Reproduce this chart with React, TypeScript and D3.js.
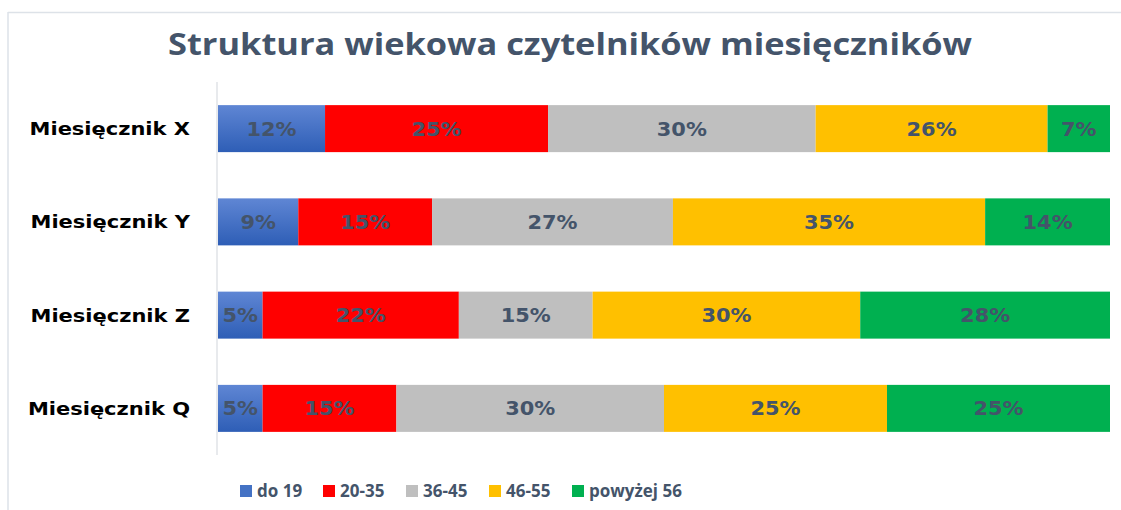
import React from "react";
import * as d3 from "d3";

const title = "Struktura wiekowa czytelników miesięczników";
const categories = ["Miesięcznik X", "Miesięcznik Y", "Miesięcznik Z", "Miesięcznik Q"];
const seriesNames = ["do 19", "20-35", "36-45", "46-55", "powyżej 56"];
const seriesColors = ["url(#blueGrad)", "#FF0000", "#BFBFBF", "#FFC000", "#00B050"];
const legendColors = ["#4472C4", "#FF0000", "#BFBFBF", "#FFC000", "#00B050"];
const do19 = [12, 9, 5, 5];
const s2035 = [25, 15, 22, 15];
const s3645 = [30, 27, 15, 30];
const s4655 = [26, 35, 30, 25];
const s56 = [7, 14, 28, 25];
const seriesValues = [do19, s2035, s3645, s4655, s56];

const W = 1121;
const H = 510;
const textColor = "#44546A";

export default function App() {
  const x = d3.scaleLinear().domain([0, 100]).range([218, 1110]);
  const y = d3
    .scaleBand<string>()
    .domain(categories)
    .range([82, 455])
    .paddingInner(0.496)
    .paddingOuter(0.248);

  const rows = categories.map((c, i) => {
    const o: any = { cat: c };
    seriesNames.forEach((s, k) => (o[s] = seriesValues[k][i]));
    return o;
  });
  const stacked = d3.stack<any>().keys(seriesNames)(rows);

  return (
    <svg
      width={W}
      height={H}
      style={{ position: "absolute", left: 0, top: 0, display: "block", background: "#fff" }}
    >
      <defs>
        <linearGradient id="blueGrad" x1="0" y1="0" x2="0" y2="1">
          <stop offset="0%" stopColor="#5F86D4" />
          <stop offset="100%" stopColor="#2E5EB6" />
        </linearGradient>
      </defs>
      <rect x={0} y={0} width={W} height={H} fill="#fff" />
      {/* frame */}
      <line x1={8} x2={W} y1={12.5} y2={12.5} stroke="#DDE2E8" strokeWidth={1.5} />
      <line x1={8} x2={8} y1={12} y2={H} stroke="#DDE2E8" strokeWidth={1.5} />

      <text
        x={570}
        y={55}
        textAnchor="middle"
        fontFamily="'Open Sans', sans-serif"
        fontWeight={700}
        fontSize={30}
        fill={textColor}
        textLength={804}
        lengthAdjust="spacingAndGlyphs"
      >
        {title}
      </text>

      {/* axis line */}
      <line x1={217} x2={217} y1={82} y2={455} stroke="#D9DCE1" strokeWidth={1.2} />

      {stacked.map((layer, k) => (
        <g key={seriesNames[k]}>
          {layer.map((d, i) => {
            const x0 = x(d[0]);
            const x1 = x(d[1]);
            const yy = y(categories[i])!;
            const bh = y.bandwidth();
            const cx = (x0 + x1) / 2;
            const cy = yy + bh / 2;
            return (
              <g key={i}>
                <rect x={x0} y={yy} width={x1 - x0} height={bh} fill={seriesColors[k]} />
                <text
                  transform={`translate(${cx},${cy + 7}) scale(1.1,1)`}
                  textAnchor="middle"
                  fontFamily="'DejaVu Sans', sans-serif"
                  fontWeight={700}
                  fontSize={19}
                  fill={textColor}
                >
                  {seriesValues[k][i]}%
                </text>
              </g>
            );
          })}
        </g>
      ))}

      {categories.map((c) => (
        <text
          key={c}
          transform={`translate(190,${y(c)! + y.bandwidth() / 2 + 6.5}) scale(1.2,1)`}
          textAnchor="end"
          fontFamily="'DejaVu Sans', sans-serif"
          fontWeight={700}
          fontSize={17.5}
          fill="#000"
        >
          {c}
        </text>
      ))}

      {seriesNames.map((s, k) => {
        const lx = 240 + k * 83;
        return (
          <g key={s}>
            <rect x={lx} y={485} width={12} height={12} fill={legendColors[k]} />
            <text
              x={lx + 17}
              y={497}
              fontFamily="'Open Sans', sans-serif"
              fontWeight={700}
              fontSize={17}
              fill={textColor}
            >
              {s}
            </text>
          </g>
        );
      })}
    </svg>
  );
}
